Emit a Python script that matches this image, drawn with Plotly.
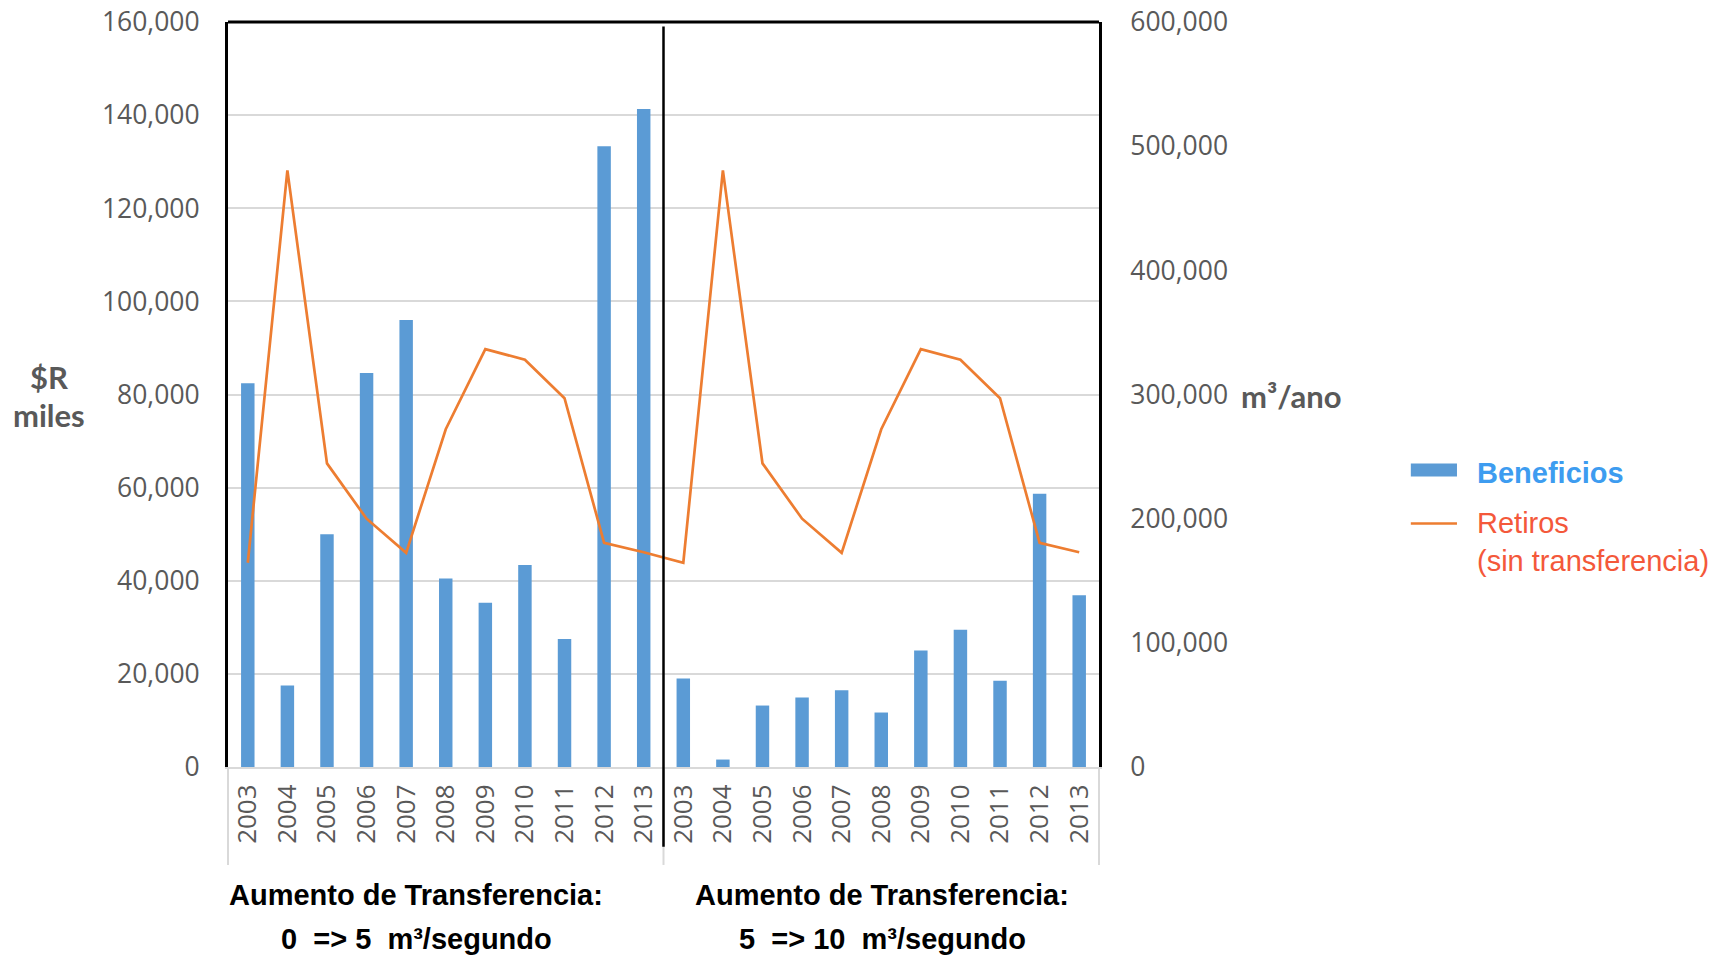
import plotly.graph_objects as go

# ---- data ----
years = ["2003", "2004", "2005", "2006", "2007", "2008", "2009", "2010", "2011", "2012", "2013"]
beneficios_0_5 = [82400, 17500, 50000, 84600, 96000, 40500, 35300, 43400, 27500, 133300, 141300]
beneficios_5_10 = [19000, 1600, 13200, 14900, 16500, 11700, 25000, 29500, 18500, 58700, 36900]
retiros = [164500, 480500, 244500, 200000, 172500, 272000, 336500, 328000, 297000, 180500, 173000]
grupo_titulo = "Aumento de Transferencia:"
grupo_rangos = ["0  => 5  m³/segundo", "5  => 10  m³/segundo"]
left_ticks = list(range(0, 160001, 20000))
right_ticks = list(range(0, 600001, 100000))

# ---- derived ----
all_years = years + years
xs = list(range(len(all_years)))
beneficios = beneficios_0_5 + beneficios_5_10
retiros_all = retiros + retiros

BAR = "#5B9BD5"
LINE = "#ED7D31"
GRID = "#D9D9D9"
TICK = "#595959"

fig = go.Figure()
fig.add_trace(go.Bar(x=xs, y=beneficios, marker=dict(color=BAR, line=dict(width=0)),
                     name="Beneficios", showlegend=False))
fig.add_trace(go.Scatter(x=xs, y=retiros_all, mode="lines", yaxis="y2",
                         line=dict(color=LINE, width=2.7),
                         name="Retiros (sin transferencia)", showlegend=False))

n = len(all_years)
mid = len(years) / n  # paper position of the divider

shapes = [
    dict(type="line", xref="paper", yref="paper", x0=0, x1=1, y0=1, y1=1,
         line=dict(color="black", width=3)),
    dict(type="line", xref="paper", yref="paper", x0=mid, x1=mid, y0=0.994, y1=-0.107,
         line=dict(color="black", width=2.5)),
]
for xp in (0, mid, 1):
    shapes.append(dict(type="line", xref="paper", yref="paper", x0=xp, x1=xp, y0=0, y1=-0.1315,
                       line=dict(color=GRID, width=2), layer="below"))

# custom legend
shapes.append(dict(type="rect", xref="paper", yref="paper", x0=1.358, x1=1.411, y0=0.390, y1=0.4073,
                   fillcolor=BAR, line=dict(width=0)))
shapes.append(dict(type="line", xref="paper", yref="paper", x0=1.358, x1=1.411, y0=0.327, y1=0.327,
                   line=dict(color=LINE, width=2.5)))

annotations = [
    dict(xref="paper", yref="paper", x=1.432, y=0.395, xanchor="left", yanchor="middle",
         text="<b>Beneficios</b>", showarrow=False,
         font=dict(family="Liberation Sans, Arial", size=29, color="#3D9CF0")),
    dict(xref="paper", yref="paper", x=1.432, y=0.302, xanchor="left", yanchor="middle",
         text="Retiros<br>(sin transferencia)", showarrow=False, align="left",
         font=dict(family="Liberation Sans, Arial", size=29, color="#F4583A")),
    dict(xref="paper", yref="paper", x=-0.2055, y=0.524, xanchor="center", yanchor="middle",
         text="<b>$R</b>", showarrow=False,
         font=dict(family="Lato, Open Sans", size=31, color=TICK)),
    dict(xref="paper", yref="paper", x=-0.2055, y=0.473, xanchor="center", yanchor="middle",
         text="<b>miles</b>", showarrow=False,
         font=dict(family="Lato, Open Sans", size=31, color=TICK)),
    dict(xref="paper", yref="paper", x=1.161, y=0.498, xanchor="left", yanchor="middle",
         text="<b>m³/ano</b>", showarrow=False,
         font=dict(family="Lato, Open Sans", size=31, color=TICK)),
]
for cx, rango in zip((0.2158, 0.7509), grupo_rangos):
    annotations.append(dict(xref="paper", yref="paper", x=cx, y=-0.1716, xanchor="center",
                            yanchor="middle", text="<b>" + grupo_titulo + "</b>", showarrow=False,
                            font=dict(family="Liberation Sans, Arial", size=29, color="black")))
    annotations.append(dict(xref="paper", yref="paper", x=cx + 0.001, y=-0.2306, xanchor="center",
                            yanchor="middle", text="<b>" + rango + "</b>", showarrow=False,
                            font=dict(family="Liberation Sans, Arial", size=29, color="black")))

fig.update_layout(
    width=1718, height=955,
    margin=dict(l=228, r=619, t=22, b=188),
    paper_bgcolor="white", plot_bgcolor="white",
    bargap=0.66,
    showlegend=False,
    xaxis=dict(range=[-0.5, n - 0.5], tickmode="array", tickvals=xs, ticktext=all_years,
               tickangle=-90, showgrid=False, zeroline=False, automargin=False,
               showline=True, linecolor=GRID, linewidth=2, ticks="",
               ticklabelstandoff=5, ticklabeloverflow="allow",
               tickfont=dict(family="Open Sans", size=26, color=TICK)),
    yaxis=dict(range=[0, 160000], tickmode="array", tickvals=left_ticks, tickformat=",",
               showgrid=True, gridcolor=GRID, gridwidth=2, zeroline=False, automargin=False,
               showline=True, linecolor="black", linewidth=3, ticks="",
               ticklabelstandoff=20, ticklabeloverflow="allow",
               tickfont=dict(family="Open Sans", size=26.5, color=TICK)),
    yaxis2=dict(range=[0, 600000], tickmode="array", tickvals=right_ticks, tickformat=",",
                overlaying="y", side="right", showgrid=False, zeroline=False, automargin=False,
                showline=True, linecolor="black", linewidth=3, ticks="",
                ticklabelstandoff=23, ticklabeloverflow="allow",
                tickfont=dict(family="Open Sans", size=26.5, color=TICK)),
    shapes=shapes,
    annotations=annotations,
)

fig.write_html("out.html", config={"displayModeBar": False},
               post_script="document.body.style.margin='0';document.body.style.overflow='hidden';")
